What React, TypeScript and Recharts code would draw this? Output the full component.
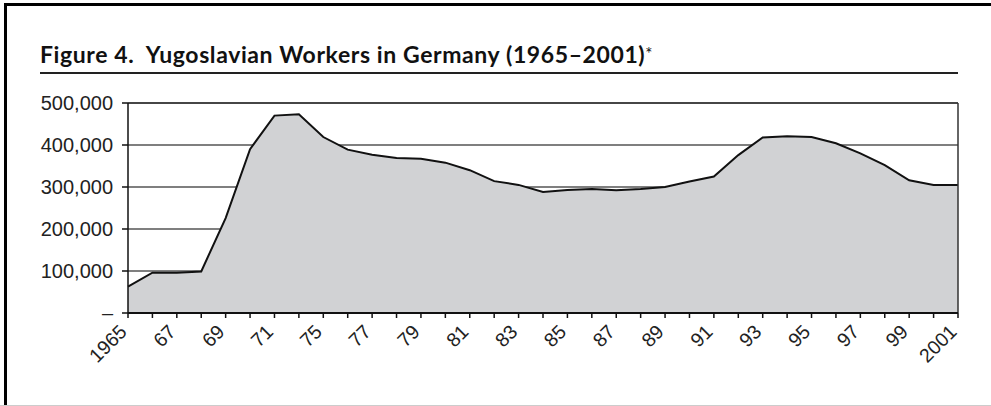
import { AreaChart, Area, XAxis, YAxis, CartesianGrid, ReferenceLine } from "recharts";

const years = [
  "1965", "1966", "1967", "1968", "1969", "1970", "1971", "1973", "1975", "1976",
  "1977", "1978", "1979", "1980", "1981", "1982", "1983", "1984", "1985", "1986",
  "1987", "1988", "1989", "1990", "1991", "1992", "1993", "1994", "1995", "1996",
  "1997", "1998", "1999", "2000", "2001",
];

const workers = [
  63000, 96000, 96000, 99000, 226000, 390000, 470000, 473000, 419000, 389000,
  377000, 369000, 367000, 358000, 340000, 314000, 305000, 288000, 293000, 295000,
  292000, 295000, 300000, 313000, 325000, 376000, 418000, 421000, 419000, 404000,
  380000, 352000, 316000, 305000, 305000,
];

const xLabels = [
  "1965", "", "67", "", "69", "", "71", "", "75", "", "77", "", "79", "", "81", "", "83", "",
  "85", "", "87", "", "89", "", "91", "", "93", "", "95", "", "97", "", "99", "", "2001",
];

const yTicks = [0, 100000, 200000, 300000, 400000, 500000];

const data = years.map((year, i) => ({ year, workers: workers[i] }));

const XTick = (props: any) => {
  const { x, y, index } = props;
  const label = xLabels[index];
  if (!label) return null;
  const tx = x;
  const ty = y + 13;
  return (
    <text
      x={tx}
      y={ty}
      transform={`rotate(-45, ${tx}, ${ty})`}
      textAnchor="end"
      fontSize={19.5}
      fontFamily="'Liberation Sans', Arial, sans-serif"
      fill="#222"
    >
      {label}
    </text>
  );
};

const fmtY = (v: number) => (v === 0 ? "–" : v.toLocaleString("en-US"));

export default function App() {
  return (
    <div
      style={{
        position: "absolute",
        left: 0,
        top: 0,
        width: 991,
        height: 406,
        background: "#fff",
        overflow: "hidden",
      }}
    >
      <div style={{ position: "absolute", left: 4, top: 3, right: 0, height: 3, background: "#000" }} />
      <div style={{ position: "absolute", left: 4, top: 3, width: 3, bottom: 0, background: "#000" }} />
      <div style={{ position: "absolute", left: 0, right: 0, bottom: 0, height: 1, background: "#ccc" }} />
      <div
        style={{
          position: "absolute",
          left: 40,
          top: 40,
          fontFamily: "Lato, 'Noto Sans', sans-serif",
          fontWeight: 700,
          fontSize: 23,
          letterSpacing: 0.6,
          color: "#111",
          whiteSpace: "pre",
        }}
      >
        {"Figure 4.  Yugoslavian Workers in Germany (1965–2001)"}
        <span style={{ fontWeight: 400, fontSize: 17, position: "relative", top: -3 }}>*</span>
      </div>
      <div style={{ position: "absolute", left: 40, top: 72, width: 918, height: 2, background: "#222" }} />
      <div style={{ position: "absolute", left: 0, top: 0 }}>
        <AreaChart
          width={991}
          height={406}
          data={data}
          margin={{ top: 103, right: 33, left: 8, bottom: 13 }}
        >
          <CartesianGrid vertical={false} stroke="#555" strokeWidth={1.5} />
          <XAxis
            dataKey="year"
            interval={0}
            tick={<XTick />}
            tickSize={5}
            height={80}
            axisLine={{ stroke: "#111", strokeWidth: 2 }}
            tickLine={{ stroke: "#111", strokeWidth: 1.5 }}
          />
          <YAxis
            width={120}
            domain={[0, 500000]}
            ticks={yTicks}
            tickFormatter={fmtY}
            tickSize={6}
            tickMargin={9}
            axisLine={{ stroke: "#111", strokeWidth: 1.5 }}
            tickLine={{ stroke: "#111", strokeWidth: 1.5 }}
            tick={{ fontSize: 20, fill: "#222", fontFamily: "'Liberation Sans', Arial, sans-serif" }}
          />
          <Area
            type="linear"
            dataKey="workers"
            stroke="#111"
            strokeWidth={2}
            fill="#d1d2d4"
            fillOpacity={1}
            isAnimationActive={false}
            dot={false}
            activeDot={false}
          />
          <ReferenceLine x="2001" stroke="#333" strokeWidth={1.5} />
          <ReferenceLine y={500000} stroke="#333" strokeWidth={1.5} />
        </AreaChart>
      </div>
    </div>
  );
}
